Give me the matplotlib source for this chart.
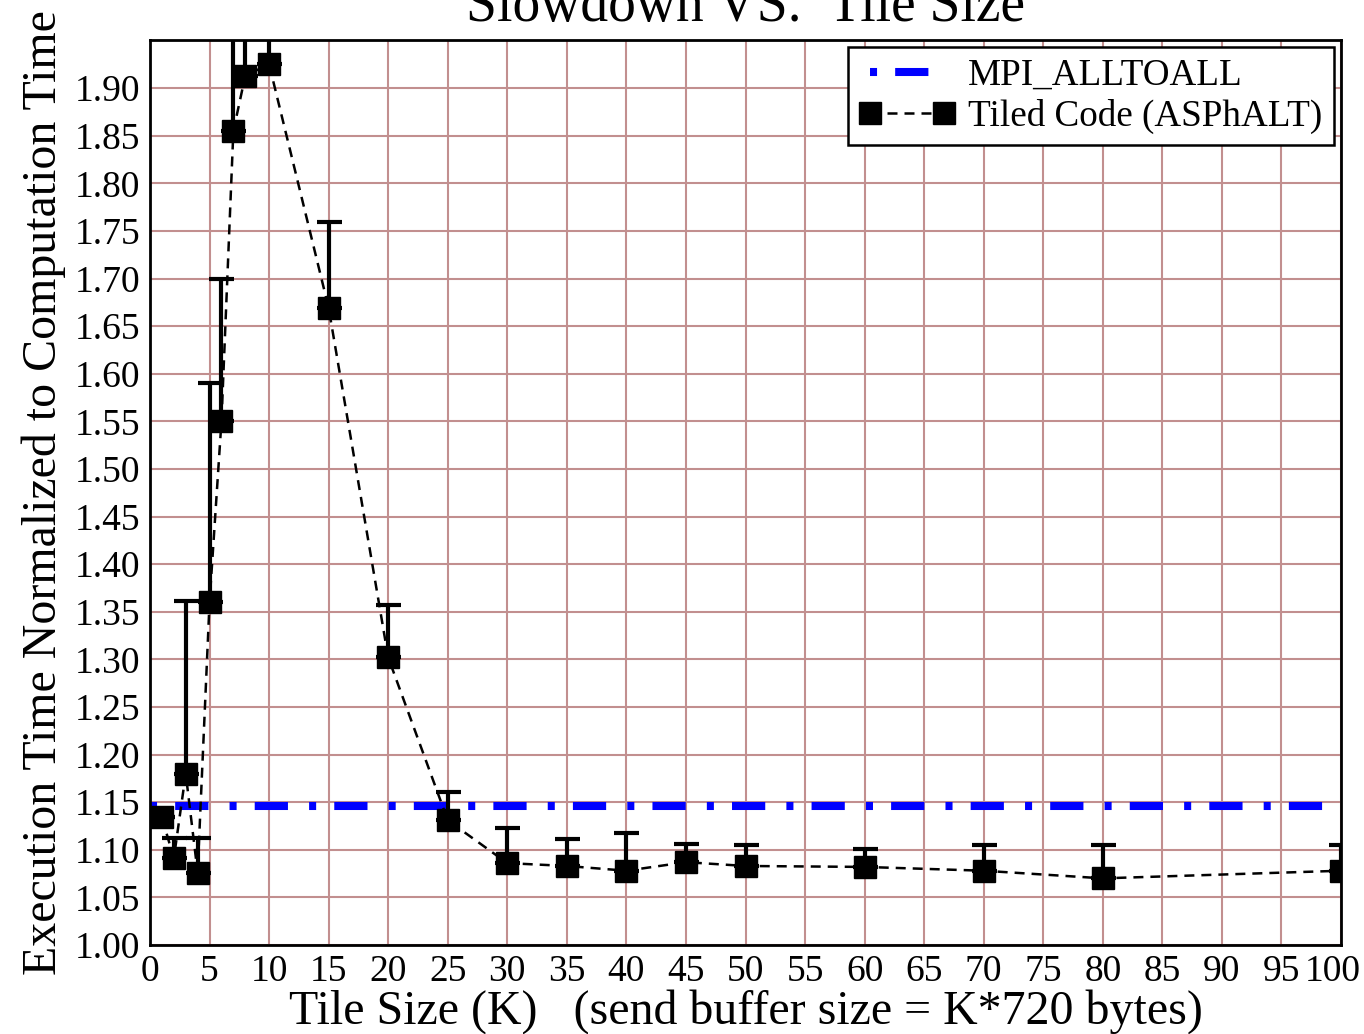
import matplotlib
matplotlib.use("Agg")
import matplotlib.pyplot as plt
import matplotlib.transforms as mtransforms
import numpy as np

# ---- data ----
tile_size = [1, 2, 3, 4, 5, 6, 7, 8, 10, 15, 20, 25, 30, 35, 40, 45, 50, 60, 70, 80, 100]
slowdown = [1.134, 1.091, 1.180, 1.076, 1.360, 1.550, 1.855, 1.913, 1.925, 1.669, 1.302,
            1.131, 1.086, 1.083, 1.078, 1.087, 1.083, 1.082, 1.078, 1.070, 1.078]
upper = [1.134, 1.112, 1.361, 1.112, 1.590, 1.699, 2.05, 2.05, 2.05, 1.759, 1.357,
         1.161, 1.123, 1.111, 1.118, 1.106, 1.105, 1.101, 1.105, 1.105, 1.105]
mpi_alltoall = 1.146
x_ticks = list(range(0, 101, 5))
y_ticks = [1.00, 1.05, 1.10, 1.15, 1.20, 1.25, 1.30, 1.35, 1.40, 1.45, 1.50,
           1.55, 1.60, 1.65, 1.70, 1.75, 1.80, 1.85, 1.90]

plt.rcParams['font.family'] = ['Liberation Serif', 'DejaVu Serif']

fig = plt.figure(figsize=(13.64, 10.34), dpi=100)
ax = fig.add_axes([150/1364, 89/1034, 1191/1364, 905/1034])

ax.set_xlim(0, 100)
ax.set_ylim(1.00, 1.9505)

grid_color = '#c28f8f'
ax.set_xticks(x_ticks)
ax.set_yticks(y_ticks)
ax.set_yticklabels([f"{v:.2f}" for v in y_ticks])
ax.grid(True, color=grid_color, linewidth=1.5, zorder=0)
ax.set_axisbelow(True)
ax.tick_params(length=0, labelsize=27, pad=7)

# nudge the last x tick label so it stays inside the figure
lbls = ax.get_xticklabels()
lbls[-1].set_transform(lbls[-1].get_transform() +
                       mtransforms.ScaledTranslation(-8/100, 0, fig.dpi_scale_trans))

for s in ax.spines.values():
    s.set_linewidth(2.0)
    s.set_color('black')
    s.set_zorder(10)

# MPI_ALLTOALL line
ax.plot([0, 100], [mpi_alltoall, mpi_alltoall], color='blue', linewidth=5.8,
        linestyle=(0, (0.875, 2.25, 4.125, 2.625)), solid_capstyle='butt',
        dash_capstyle='butt', label='MPI_ALLTOALL', zorder=3)

# Tiled code
y = np.array(slowdown)
yerr = np.vstack([np.zeros_like(y), np.array(upper) - y])
ax.errorbar(tile_size, slowdown, yerr=yerr, fmt='none', ecolor='black',
            elinewidth=3, capsize=9, capthick=3, zorder=4)
ax.plot(tile_size, slowdown, color='black', linestyle=(0, (4.0, 2.8)), linewidth=1.8,
        marker='s', markersize=15.5, markerfacecolor='black', markeredgecolor='black',
        label='Tiled Code (ASPhALT)', zorder=5)

ax.set_xlabel('Tile Size (K)   (send buffer size = K*720 bytes)', fontsize=34.5, labelpad=0)
ax.set_ylabel('Execution Time Normalized to Computation Time', fontsize=34.5, labelpad=6)
ax.set_title('Slowdown VS.  Tile Size', fontsize=40, pad=14)

leg = ax.legend(loc='upper right', fontsize=26.7, numpoints=2, handlelength=2.6,
                fancybox=False, framealpha=1, edgecolor='black',
                borderaxespad=0.2, borderpad=0.3, labelspacing=0.15,
                handletextpad=0.35)
leg.get_frame().set_linewidth(1.8)
leg.set_zorder(11)

fig.savefig('out.png', dpi=100)
